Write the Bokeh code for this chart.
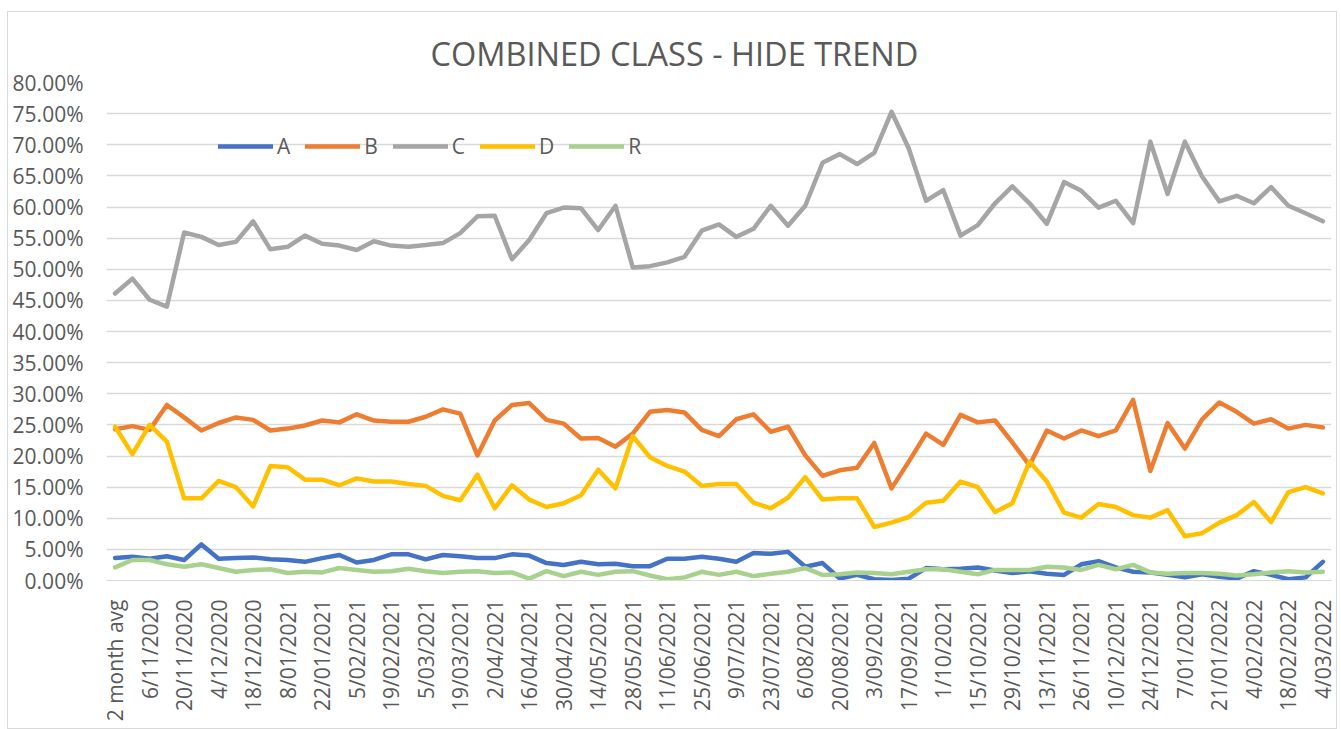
import math
from bokeh.plotting import figure
from bokeh.models import ColumnDataSource, Range1d, FixedTicker, NumeralTickFormatter, Legend
from bokeh.embed import file_html
from bokeh.resources import INLINE

dates = ["2 month avg","30/10/2020","6/11/2020","13/11/2020","20/11/2020","27/11/2020","4/12/2020","11/12/2020","18/12/2020","1/01/2021",
         "8/01/2021","15/01/2021","22/01/2021","29/01/2021","5/02/2021","12/02/2021","19/02/2021","26/02/2021","5/03/2021","12/03/2021",
         "19/03/2021","26/03/2021","2/04/2021","9/04/2021","16/04/2021","23/04/2021","30/04/2021","7/05/2021","14/05/2021","21/05/2021",
         "28/05/2021","4/06/2021","11/06/2021","18/06/2021","25/06/2021","2/07/2021","9/07/2021","16/07/2021","23/07/2021","30/07/2021",
         "6/08/2021","13/08/2021","20/08/2021","27/08/2021","3/09/2021","10/09/2021","17/09/2021","24/09/2021","1/10/2021","8/10/2021",
         "15/10/2021","22/10/2021","29/10/2021","5/11/2021","13/11/2021","19/11/2021","26/11/2021","3/12/2021","10/12/2021","17/12/2021",
         "24/12/2021","31/12/2021","7/01/2022","14/01/2022","21/01/2022","28/01/2022","4/02/2022","11/02/2022","18/02/2022","25/02/2022",
         "4/03/2022"]

# values in percent
A = [3.6,3.8,3.5,3.9,3.3,5.8,3.5,3.6,3.7,3.4,3.3,3.0,3.6,4.1,2.9,3.3,4.2,4.2,
     3.4,4.1,3.9,3.6,3.6,4.2,4.0,2.8,2.5,3.0,2.6,2.7,2.3,2.3,3.5,3.5,3.8,3.5,
     3.0,4.4,4.3,4.6,2.2,2.8,0.3,0.9,0.2,0.1,0.3,2.0,1.8,1.9,2.1,1.6,1.2,
     1.5,1.1,0.9,2.6,3.1,2.1,1.4,1.3,0.9,0.5,1.0,0.6,0.3,1.5,0.9,0.2,0.5,3.0]
B = [24.3,24.8,24.2,28.2,26.2,24.1,25.3,26.2,25.8,24.1,24.4,24.9,25.7,25.4,26.7,25.7,25.5,25.5,
     26.3,27.5,26.8,20.1,25.7,28.2,28.5,25.8,25.2,22.8,22.9,21.5,23.6,27.1,27.4,27.0,24.2,23.2,
     25.9,26.7,23.9,24.7,20.1,16.8,17.7,18.1,22.1,14.8,19.1,23.6,21.8,26.6,25.4,25.7,22.2,
     18.5,24.1,22.8,24.1,23.2,24.1,29.0,17.6,25.3,21.2,25.9,28.6,27.1,25.2,25.9,24.4,25.0,24.6]
C = [46.1,48.5,45.1,44.0,55.9,55.2,53.9,54.4,57.7,53.2,
     53.6,55.4,54.1,53.8,53.1,54.5,53.8,53.6,53.9,54.2,
     55.8,58.5,58.6,51.6,54.7,59.0,59.9,59.8,56.3,60.2,
     50.3,50.5,51.1,52.0,56.2,57.2,55.2,56.5,60.2,57.0,
     60.2,67.1,68.5,66.9,68.7,75.3,69.4,61.0,62.7,55.4,
     57.1,60.6,63.3,60.6,57.3,64.0,62.6,59.9,61.0,57.4,
     70.5,62.1,70.5,64.9,60.9,61.8,60.6,63.2,60.2,59.0,57.7]
D = [24.7,20.3,25.0,22.3,13.2,13.2,16.0,15.0,11.9,18.4,18.2,16.2,16.2,15.3,16.4,15.9,15.9,15.5,
     15.2,13.6,12.9,17.0,11.6,15.3,13.0,11.8,12.4,13.7,17.8,14.8,23.2,19.8,18.4,17.5,15.2,15.5,
     15.5,12.5,11.6,13.3,16.6,13.0,13.2,13.2,8.6,9.3,10.2,12.5,12.8,15.9,15.0,11.0,12.4,
     19.1,15.9,10.9,10.1,12.3,11.8,10.5,10.1,11.3,7.1,7.6,9.3,10.5,12.6,9.4,14.2,15.0,14.0]
R = [2.1,3.3,3.3,2.6,2.2,2.6,2.0,1.4,1.7,1.8,1.2,1.4,1.3,2.0,1.7,1.4,1.5,1.9,
     1.5,1.2,1.4,1.5,1.2,1.3,0.3,1.5,0.7,1.4,0.9,1.4,1.5,0.8,0.2,0.5,1.4,0.9,
     1.4,0.7,1.1,1.4,2.0,0.9,1.0,1.3,1.2,1.0,1.4,1.8,1.8,1.4,1.0,1.7,1.7,
     1.7,2.2,2.1,1.7,2.5,1.8,2.5,1.3,1.1,1.2,1.2,1.1,0.8,1.0,1.3,1.5,1.3,1.4]

series = ["A", "B", "C", "D", "R"]
colors = ["#4472C4", "#ED7D31", "#A5A5A5", "#FFC000", "#A9D18E"]
values = {"A": A, "B": B, "C": C, "D": D, "R": R}

src = ColumnDataSource(dict(idx=list(range(len(dates))),
                            **{k: [v / 100.0 for v in vals] for k, vals in values.items()}))

FONT = "Open Sans"
TXT = "#595959"

p = figure(width=1330, height=718, output_backend="svg", toolbar_location=None,
           x_range=Range1d(-0.5, len(dates) - 0.5), y_range=Range1d(0, 0.8),
           min_border_left=98, min_border_right=7, min_border_top=70, min_border_bottom=150,
           title="COMBINED CLASS - HIDE TREND")
p.styles = {"border": "1px solid #D9D9D9", "box-sizing": "border-box",
            "margin-left": "7px", "margin-top": "11px"}
p.outline_line_color = None
p.background_fill_color = "white"
p.border_fill_color = "white"

p.title.align = "left"
p.title.text_font = FONT
p.title.text_font_size = "32.5px"
p.title.text_font_style = "normal"
p.title.text_color = TXT
p.title.offset = 324
p.title.standoff = 13

renderers = []
for s, c in zip(series, colors):
    r = p.line(x="idx", y=s, source=src, line_color=c, line_width=4.5,
               line_cap="round", line_join="round")
    renderers.append((s, [r]))

legend = Legend(items=renderers, orientation="horizontal", location=(112, 420),
                border_line_color=None, background_fill_alpha=0,
                label_text_font=FONT, label_text_font_size="21px", label_text_color=TXT,
                glyph_width=55, glyph_height=20, label_standoff=4, spacing=15,
                padding=0, margin=0, label_width=0)
p.add_layout(legend, "center")

# y axis
p.yaxis.ticker = FixedTicker(ticks=[i * 0.05 for i in range(17)])
p.yaxis.formatter = NumeralTickFormatter(format="0.00%")
p.yaxis.axis_line_color = None
p.yaxis.major_tick_line_color = None
p.yaxis.minor_tick_line_color = None
p.yaxis.major_tick_out = 0
p.yaxis.major_tick_in = 0
p.yaxis.major_label_standoff = 23
p.yaxis.major_label_text_font = FONT
p.yaxis.major_label_text_font_size = "21px"
p.yaxis.major_label_text_color = TXT

# x axis
p.xaxis.ticker = FixedTicker(ticks=list(range(0, len(dates), 2)))
p.xaxis.major_label_overrides = {i: dates[i] for i in range(0, len(dates), 2)}
p.xaxis.major_label_orientation = math.pi / 2
p.xaxis.axis_line_color = "#D9D9D9"
p.xaxis.axis_line_width = 1
p.xaxis.major_tick_line_color = None
p.xaxis.minor_tick_line_color = None
p.xaxis.major_tick_out = 0
p.xaxis.major_tick_in = 0
p.xaxis.major_label_standoff = 19
p.xaxis.major_label_text_font = FONT
p.xaxis.major_label_text_font_size = "21px"
p.xaxis.major_label_text_color = TXT

p.xgrid.grid_line_color = None
p.ygrid.grid_line_color = "#D9D9D9"
p.ygrid.grid_line_width = 1.3

open("out.html", "w").write(file_html(p, INLINE))
